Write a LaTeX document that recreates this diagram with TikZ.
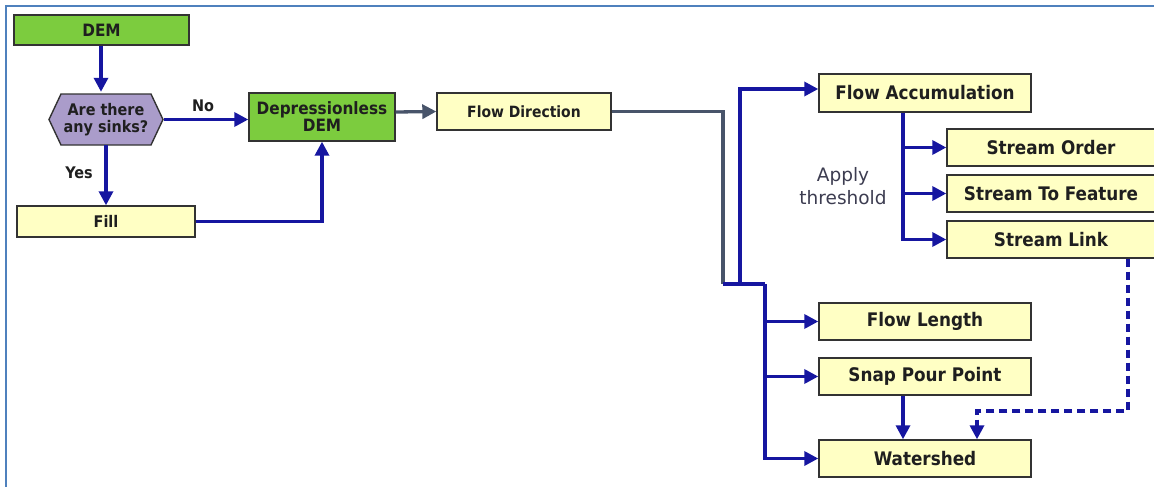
\documentclass[tikz,border=0pt]{standalone}
\usepackage{fontspec}
\setmainfont{DejaVu Sans}
\newfontfamily\boxfont{DejaVu Sans Condensed}[BoldFont={DejaVu Sans Condensed Bold}]
\usetikzlibrary{arrows.meta}
\definecolor{demgreen}{RGB}{124,204,62}
\definecolor{hexpurple}{RGB}{170,156,202}
\definecolor{toolyellow}{RGB}{255,255,196}
\definecolor{flowblue}{RGB}{22,22,160}
\definecolor{flowgray}{RGB}{72,84,106}
\definecolor{frameblue}{RGB}{79,129,189}
\definecolor{notegray}{RGB}{60,60,80}
\tikzset{
  boxtext/.style={font=\boxfont\bfseries\fontsize{18.7}{21}\selectfont, text=black!88},
  smalltext/.style={font=\boxfont\bfseries\fontsize{16}{18}\selectfont},
  box/.style={boxtext, draw=black!80, line width=1.4pt, inner sep=0pt, align=center},
  greenbox/.style={box, font=\boxfont\bfseries\fontsize{17}{19}\selectfont, fill=demgreen},
  toolbox/.style={box, fill=toolyellow},
  hexbox/.style={boxtext, smalltext, align=center, inner sep=0pt,
    path picture={
      \coordinate (hw) at ([xshift=1pt]path picture bounding box.west);
      \coordinate (he) at ([xshift=-1pt]path picture bounding box.east);
      \coordinate (hnw) at ([xshift=13pt,yshift=-1pt]path picture bounding box.north west);
      \coordinate (hne) at ([xshift=-13pt,yshift=-1pt]path picture bounding box.north east);
      \coordinate (hsw) at ([xshift=13pt,yshift=1pt]path picture bounding box.south west);
      \coordinate (hse) at ([xshift=-13pt,yshift=1pt]path picture bounding box.south east);
      \draw[fill=hexpurple, draw=black!80, line width=1.4pt]
        (hw) -- (hnw) -- (hne) -- (he) -- (hse) -- (hsw) -- cycle;
    }},
  tip/.style={-{Triangle[length=14pt,width=14pt]}},
  flow/.style={draw=flowblue, line width=3.3pt, tip},
  grayflow/.style={draw=flowgray, line width=3.3pt},
  dashflow/.style={flow, dash pattern=on 8pt off 5pt},
  lbl/.style={boxtext, smalltext, inner sep=0pt}
}
\begin{document}
\begin{tikzpicture}[x=1pt,y=-1pt]
\useasboundingbox (0,0) rectangle (1154,487);
% frame
\draw[frameblue, line width=2.5pt] (6,487) -- (6,6) -- (1155,6);

% nodes
\node[greenbox, minimum width=175pt, minimum height=30pt] (dem) at (101.5,30) {DEM};
\node[hexbox, minimum width=116pt, minimum height=53pt] (sinks) at (106,119.5) {Are there\\[-1pt]any sinks?};
\node[greenbox, minimum width=146pt, minimum height=48pt] (dep) at (322,117) {Depressionless\\[-2pt]DEM};
\node[toolbox, smalltext, minimum width=178pt, minimum height=31pt] (fill) at (106,221.5) {Fill};
\node[toolbox, font=\boxfont\bfseries\fontsize{15.5}{18}\selectfont, minimum width=174pt, minimum height=37pt] (fdir) at (524,111.5) {Flow Direction};
\node[toolbox, minimum width=212pt, minimum height=38pt] (facc) at (925,93) {Flow Accumulation};
\node[toolbox, minimum width=208pt, minimum height=37pt] (sord) at (1051,147.5) {Stream Order};
\node[toolbox, minimum width=208pt, minimum height=37pt] (sfeat) at (1051,193.5) {Stream To Feature};
\node[toolbox, minimum width=208pt, minimum height=37pt] (slink) at (1051,239.5) {Stream Link};
\node[toolbox, minimum width=212pt, minimum height=37pt] (flen) at (925,321.5) {Flow Length};
\node[toolbox, minimum width=212pt, minimum height=37pt] (snap) at (925,376.5) {Snap Pour Point};
\node[toolbox, minimum width=212pt, minimum height=37pt] (wshed) at (925,458.5) {Watershed};

% labels
\node[lbl] (no) at (203,106) {No};
\node[lbl] (yes) at (79,173) {Yes};
\node[font=\fontsize{18.5}{23}\selectfont, text=notegray, align=center, inner sep=0pt] (thr) at (843,186) {Apply\\threshold};

% connectors
\coordinate (c1) at (723,284);
\coordinate (c2) at (740,284);
\coordinate (c3) at (765,284);
\draw[flow] (dem.south -| 101,0) -- ([yshift=1pt]sinks.north -| 101,0);
\draw[flow] (sinks.east) -- (sinks.east -| dep.west);
\draw[flow] ([yshift=1pt]sinks.south) -- (fill.north);
\draw[flow] (fill.east) -| (dep.south);
\draw[grayflow, tip] ([yshift=5pt]dep.east) -- (fdir.west);
\draw[grayflow] (fdir.east) -| (c1);
\draw[draw=flowblue, line width=3.3pt] (c1) -- (c3);
\draw[flow] (c2) |- ([yshift=4pt]facc.west);
\draw[flow] (c3) |- (flen.west);
\draw[flow] (c3) |- (snap.west);
\draw[flow] (c3) |- (wshed.west);
\draw[flow] (facc.south -| 903,0) |- (sord.west);
\draw[flow] (facc.south -| 903,0) |- (sfeat.west);
\draw[flow] (facc.south -| 903,0) |- (slink.west);
\draw[flow] (snap.south -| 903,0) -- (wshed.north -| 903,0);
\coordinate (d1) at (1128,411);
\draw[dashflow] (slink.south -| d1) -- (d1) -| (wshed.north -| 977,0);
\end{tikzpicture}
\end{document}
